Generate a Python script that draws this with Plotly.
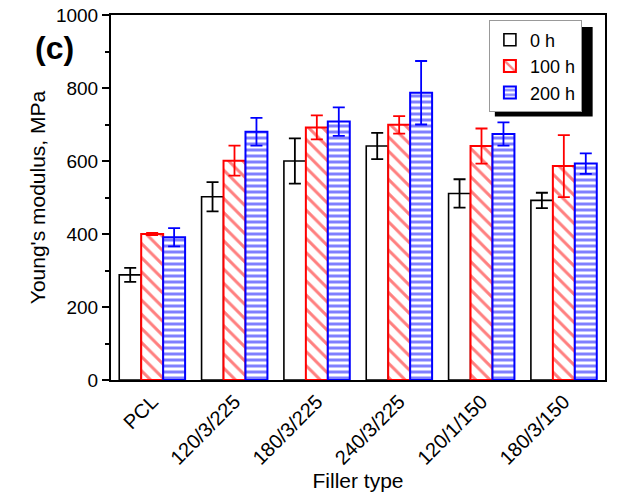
import plotly.graph_objects as go

categories = ["PCL", "120/3/225", "180/3/225", "240/3/225", "120/1/150", "180/3/150"]
series_names = ["0 h", "100 h", "200 h"]
values_0h = [288, 502, 600, 641, 511, 492]
err_0h = [19, 40, 62, 36, 39, 21]
values_100h = [400, 601, 692, 699, 641, 586]
err_100h = [3, 41, 33, 24, 48, 85]
values_200h = [391, 680, 708, 787, 674, 593]
err_200h = [25, 38, 39, 87, 32, 28]

FONT = "Liberation Sans, Arial, sans-serif"

fig = go.Figure()
fig.add_trace(go.Bar(
    name=series_names[0], x=categories, y=values_0h,
    marker=dict(color="white", line=dict(color="black", width=1.6)),
    error_y=dict(type="data", array=err_0h, color="black", thickness=1.8, width=6),
))
fig.add_trace(go.Bar(
    name=series_names[1], x=categories, y=values_100h,
    marker=dict(color="white", line=dict(color="#ff0000", width=2),
                pattern=dict(shape="\\", fgcolor="#ff0000", bgcolor="white", size=10, solidity=0.3)),
    error_y=dict(type="data", array=err_100h, color="#ff0000", thickness=1.8, width=6),
))
fig.add_trace(go.Bar(
    name=series_names[2], x=categories, y=values_200h,
    marker=dict(color="white", line=dict(color="#0000ff", width=2),
                pattern=dict(shape="-", fgcolor="#0000ff", bgcolor="white", size=6, solidity=0.5)),
    error_y=dict(type="data", array=err_200h, color="#0000ff", thickness=1.8, width=6),
))

# legend drop shadow
fig.add_shape(type="rect", xref="paper", yref="paper",
              x0=0.777, x1=0.975, y0=0.722, y1=0.967,
              fillcolor="black", line=dict(width=0), layer="above")

fig.add_annotation(text="<b>(c)</b>", xref="paper", yref="paper", x=-0.158, y=0.965,
                   xanchor="left", yanchor="top", showarrow=False,
                   font=dict(family=FONT, size=32, color="black"))

fig.update_layout(
    width=618, height=496,
    margin=dict(l=111, r=13, t=15, b=116, autoexpand=False),
    paper_bgcolor="white", plot_bgcolor="white",
    barmode="group", bargap=0.2, bargroupgap=0,
    font=dict(family=FONT, color="black"),
    showlegend=True,
    legend=dict(x=0.765, y=0.985, xanchor="left", yanchor="top",
                bgcolor="white", bordercolor="#999999", borderwidth=1,
                font=dict(family=FONT, size=18), itemwidth=30,
                tracegroupgap=0, traceorder="normal"),
    xaxis=dict(showline=True, linecolor="black", linewidth=2, mirror=True, automargin=False,
               ticks="", tickangle=-45, tickfont=dict(family=FONT, size=20),
               title=dict(text="Filler type", font=dict(family=FONT, size=21), standoff=2)),
    yaxis=dict(range=[0, 1000], showline=True, linecolor="black", linewidth=2, mirror=True,
               automargin=False,
               ticks="outside", ticklen=7, tickwidth=1.5, tickcolor="black",
               tickvals=[0, 200, 400, 600, 800, 1000],
               minor=dict(ticks="outside", ticklen=4, tickwidth=1.5, tickcolor="black",
                          tickvals=[100, 300, 500, 700, 900]),
               showgrid=False, zeroline=False,
               tickfont=dict(family=FONT, size=19),
               title=dict(text="Young's modulus, MPa", font=dict(family=FONT, size=21), standoff=5)),
)

fig.write_html("out.html")
